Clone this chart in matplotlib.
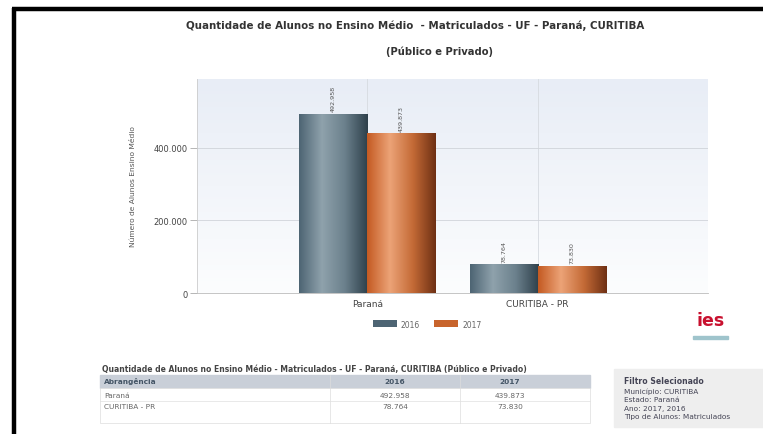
import numpy as np
import matplotlib
matplotlib.use("Agg")
import matplotlib.pyplot as plt
from matplotlib.colors import LinearSegmentedColormap
from matplotlib.patches import Rectangle
from matplotlib.lines import Line2D

# data
categories = ["Paraná", "CURITIBA - PR"]
years = ["2016", "2017"]
vals_2016 = [492958, 78764]
vals_2017 = [439873, 73830]
filtro = ["Município: CURITIBA", "Estado: Paraná", "Ano: 2017, 2016",
          "Tipo de Alunos: Matriculados"]

def fmt(v):
    return f"{v:,}".replace(",", ".")

blue_cmap = LinearSegmentedColormap.from_list(
    "b", ["#4d6473", "#8fa2ac", "#6b808c", "#2e404b"], N=256)
orange_cmap = LinearSegmentedColormap.from_list(
    "o", ["#c45a22", "#eca377", "#c46a36", "#6e3014"], N=256)

fig = plt.figure(figsize=(7.63, 4.35), dpi=100)
fig.patch.set_facecolor("white")

# black frame (left and top)
fig.add_artist(Line2D([14 / 763, 14 / 763], [0, 1 - 9 / 435], color="black", lw=3.2,
                      transform=fig.transFigure, solid_capstyle="butt"))
fig.add_artist(Line2D([12 / 763, 1], [1 - 10 / 435, 1 - 10 / 435], color="black", lw=3.2,
                      transform=fig.transFigure, solid_capstyle="butt"))

ax = fig.add_axes([197 / 763, 1 - 294 / 435, 511 / 763, 214 / 435])
x = np.arange(len(categories))
w = 0.4
ymax = 590000

# background gradient
bg = np.linspace(0, 1, 100).reshape(-1, 1)
bg_cmap = LinearSegmentedColormap.from_list("bg", ["#e8edf6", "#fcfdfe"])
ax.imshow(bg, extent=[-1, 2, 0, ymax], aspect="auto", cmap=bg_cmap, zorder=0,
          origin="upper")

b1 = ax.bar(x - w / 2, vals_2016, w, color="#4d6473", zorder=2, label=years[0])
b2 = ax.bar(x + w / 2, vals_2017, w, color="#c8642c", zorder=2, label=years[1])

grad = np.linspace(0, 1, 256).reshape(1, -1)
for bars, cm in [(b1, blue_cmap), (b2, orange_cmap)]:
    for bar in bars:
        bx, by = bar.get_xy()
        ax.imshow(grad, extent=[bx, bx + bar.get_width(), by, by + bar.get_height()],
                  aspect="auto", cmap=cm, zorder=3)
        ax.text(bx + bar.get_width() / 2, by + bar.get_height() + 8000,
                fmt(int(bar.get_height())), rotation=90, ha="center", va="bottom",
                fontsize=4.6, color="#555555", zorder=4)

ax.set_xlim(-1, 2)
ax.set_ylim(0, ymax)
ax.set_yticks([0, 200000, 400000])
ax.set_yticklabels(["0", "200.000", "400.000"], fontsize=6, color="#444444")
ax.set_xticks(x)
ax.set_xticklabels(categories, fontsize=6.5, color="#444444")
ax.tick_params(axis="y", length=5, width=0.5, color="#999999", pad=2)
ax.tick_params(axis="x", length=0, pad=4)
ax.grid(axis="y", color="#d0d4da", lw=0.6, zorder=1)
ax.grid(axis="x", color="#d6dae0", lw=0.6, zorder=1)
for s in ["top", "right"]:
    ax.spines[s].set_visible(False)
ax.spines["left"].set_color("#cccccc")
ax.spines["left"].set_linewidth(0.6)
ax.spines["bottom"].set_color("#bbbbbb")
ax.spines["bottom"].set_linewidth(0.6)
ax.set_ylabel("Número de Alunos Ensino Médio", fontsize=5.4, color="#555555", labelpad=12)

leg = ax.legend(loc="center", bbox_to_anchor=(0.45, -0.145), ncol=2, fontsize=5.5,
                frameon=False, handlelength=3.2, handleheight=1.0, columnspacing=1.8,
                handletextpad=0.5)
for t in leg.get_texts():
    t.set_color("#666666")

fig.text(415 / 763, 1 - 26 / 435,
         "Quantidade de Alunos no Ensino Médio  - Matriculados - UF - Paraná, CURITIBA",
         ha="center", va="center", fontsize=7.4, fontweight="bold", color="#333333")
fig.text(440 / 763, 1 - 52 / 435, "(Público e Privado)", ha="center", va="center",
         fontsize=7.2, fontweight="bold", color="#333333")

# ies logo
fig.text(711 / 763, 1 - 321 / 435, "ies", ha="center", va="center", fontsize=12.5,
         fontweight="bold", color="#c8102e")
fig.add_artist(Rectangle((693 / 763, 1 - 340 / 435), 35 / 763, 3 / 435,
                         transform=fig.transFigure, color="#9fc4cc"))

# data table
fig.text(102 / 763, 1 - 370 / 435,
         "Quantidade de Alunos no Ensino Médio - Matriculados - UF - Paraná, CURITIBA (Público e Privado)",
         ha="left", va="center", fontsize=5.5, fontweight="bold", color="#444444")
fig.add_artist(Rectangle((100 / 763, 1 - 389 / 435), 490 / 763, 13 / 435,
                         transform=fig.transFigure, color="#c9cfd8"))
fig.add_artist(Rectangle((100 / 763, 1 - 424 / 435), 490 / 763, 35 / 435,
                         transform=fig.transFigure, facecolor="white",
                         edgecolor="#dddddd", lw=0.5))
for xs in [330, 460]:
    fig.add_artist(Line2D([xs / 763, xs / 763], [1 - 424 / 435, 1 - 376 / 435],
                          color="#dddddd", lw=0.5, transform=fig.transFigure))
fig.add_artist(Line2D([100 / 763, 590 / 763], [1 - 402 / 435, 1 - 402 / 435],
                      color="#e0e0e0", lw=0.5, transform=fig.transFigure))
fig.text(104 / 763, 1 - 382 / 435, "Abrangência", fontsize=5.3, fontweight="bold",
         color="#445566", va="center")
fig.text(395 / 763, 1 - 382 / 435, years[0], fontsize=5.3, fontweight="bold",
         color="#445566", va="center", ha="center")
fig.text(510 / 763, 1 - 382 / 435, years[1], fontsize=5.3, fontweight="bold",
         color="#445566", va="center", ha="center")
for i, c in enumerate(categories):
    yy = 1 - (396 + 11 * i) / 435
    fig.text(104 / 763, yy, c, fontsize=5.3, color="#666666", va="center")
    fig.text(395 / 763, yy, fmt(vals_2016[i]), fontsize=5.3, color="#666666",
             va="center", ha="center")
    fig.text(510 / 763, yy, fmt(vals_2017[i]), fontsize=5.3, color="#666666",
             va="center", ha="center")

# filter box
fig.add_artist(Rectangle((614 / 763, 1 - 428 / 435), 149 / 763, 58 / 435,
                         transform=fig.transFigure, color="#eeeeee"))
fig.text(624 / 763, 1 - 382 / 435, "Filtro Selecionado", fontsize=5.6,
         fontweight="bold", color="#444455", va="center")
for i, line in enumerate(filtro):
    fig.text(624 / 763, 1 - (392 + 8.5 * i) / 435, line, fontsize=5.3,
             color="#444455", va="center")

fig.savefig("out.png", dpi=100)
